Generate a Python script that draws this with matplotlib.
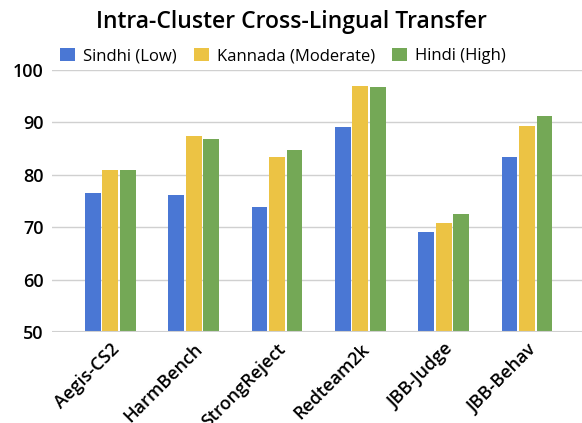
import numpy as np
import matplotlib
matplotlib.use("Agg")
import matplotlib.pyplot as plt

plt.rcParams.update({"font.family": ["Open Sans", "DejaVu Sans"], "font.size": 11})

categories = ["Aegis-CS2", "HarmBench", "StrongReject", "Redteam2k", "JBB-Judge", "JBB-Behav"]
sindhi = [76.5, 76.2, 73.9, 89.2, 69.0, 83.4]
kannada = [81.0, 87.4, 83.4, 97.0, 70.8, 89.4]
hindi = [81.0, 86.8, 84.8, 96.8, 72.6, 91.3]
series = [("Sindhi (Low)", sindhi, "#4A77D4"),
          ("Kannada (Moderate)", kannada, "#ECC344"),
          ("Hindi (High)", hindi, "#74A856")]

fig = plt.figure(figsize=(5.82, 4.23), dpi=100)
ax = fig.add_axes([52/582, 1 - 332/423, 530/582, 262/423])

x = np.arange(len(categories))
w, step = 0.19, 0.21
for i, (name, vals, col) in enumerate(series):
    ax.bar(x + (i - 1) * step, np.array(vals) - 50, w, bottom=50, color=col, label=name, zorder=3)

ax.set_ylim(50, 100)
ax.set_xlim(-0.7, 5.66)
ax.set_yticks([50, 60, 70, 80, 90, 100])
ax.grid(axis="y", color="#D0D0D0", lw=1, zorder=0)
for s in ax.spines.values():
    s.set_visible(False)
ax.axhline(50, color="#D0D0D0", lw=1.5, zorder=4)
ax.tick_params(length=0, labelsize=13, pad=6)
ax.set_xticks(x)
ax.set_xticklabels(categories, rotation=45, ha="right", rotation_mode="anchor", fontsize=13, fontweight="semibold")
for t in ax.get_yticklabels():
    t.set_fontweight("semibold")

fig.text(0.5, 1 - 22/423, "Intra-Cluster Cross-Lingual Transfer", ha="center", va="center",
         fontsize=16.5, fontweight="semibold")
fig.legend(loc="center", bbox_to_anchor=(0.486, 1 - 56/423), ncol=3, frameon=False,
           handlelength=0.9, handleheight=0.9, handletextpad=0.5, columnspacing=1.0, fontsize=12)

fig.savefig("out.png", dpi=100)
